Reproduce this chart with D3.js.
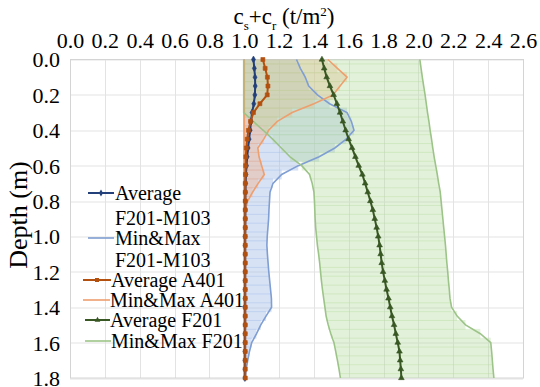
<!DOCTYPE html>
<html>
<head>
<meta charset="utf-8">
<script src="https://cdn.jsdelivr.net/npm/d3@7"></script>
<style>
    body { margin: 0; background: #fff; }
    svg { display: block; }
</style>
</head>
<body>
<div id="chart"></div>
<script>

// depth categories (m)
var depths = [0, 0.05, 0.1, 0.15, 0.2, 0.25, 0.3, 0.35, 0.4, 0.45, 0.5, 0.55, 0.6, 0.65, 0.7, 0.75, 0.8, 0.85, 0.9,
    0.95, 1.0, 1.05, 1.1, 1.15, 1.2, 1.25, 1.3, 1.35, 1.4, 1.45, 1.5, 1.55, 1.6, 1.65, 1.7, 1.75, 1.8];

// F201-M103
var avgM103 = [1.053, 1.058, 1.062, 1.063, 1.061, 1.055, 1.045, 1.039, 1.034, 1.028, 1.022, 1.017, 1.013, 1.010, 1.008,
    1.007, 1.006, 1.006, 1.006, 1.006, 1.005, 1.005, 1.005, 1.005, 1.005, 1.005, 1.005, 1.005, 1.005, 1.005, 1.005,
    1.004, 1.004, 1.004, 1.004, 1.004, 1.004];
var minM103 = [1.0, 1.0, 1.0, 1.0, 1.0, 1.0, 1.0, 1.0, 1.0, 1.0, 1.0, 1.0, 1.0, 1.0, 1.0, 1.0, 1.0, 1.0, 1.0, 1.0,
    1.0, 1.0, 1.0, 1.0, 1.0, 1.0, 1.0, 1.0, 1.0, 1.0, 1.0, 1.0, 1.0, 1.0, 1.0, 1.0, 1.0];
var maxM103 = [1.30, 1.322, 1.35, 1.37, 1.42, 1.49, 1.59, 1.615, 1.63, 1.585, 1.52, 1.43, 1.31, 1.215, 1.165, 1.148,
    1.145, 1.142, 1.14, 1.136, 1.132, 1.13, 1.133, 1.137, 1.141, 1.146, 1.151, 1.156, 1.157, 1.125, 1.095, 1.07,
    1.043, 1.03, 1.02, 1.011, 1.006];

// A401
var avgA401 = [1.107, 1.12, 1.133, 1.136, 1.132, 1.09, 1.053, 1.036, 1.024, 1.017, 1.012, 1.009, 1.008, 1.007, 1.006,
    1.006, 1.006, 1.006, 1.006, 1.006, 1.006, 1.006, 1.006, 1.006, 1.006, 1.006, 1.006, 1.006, 1.006, 1.006, 1.006,
    1.006, 1.006, 1.006, 1.006, 1.006, 1.006];
var minA401 = [1.0, 1.0, 1.0, 1.0, 1.0, 1.0, 1.0, 1.0, 1.0, 1.0, 1.0, 1.0, 1.0, 1.0, 1.0, 1.0, 1.0, 1.0, 1.0, 1.0,
    1.0, 1.0, 1.0, 1.0, 1.0, 1.0, 1.0, 1.0, 1.0, 1.0, 1.0, 1.0, 1.0, 1.0, 1.0, 1.0, 1.0];
var maxA401 = [1.48, 1.535, 1.59, 1.55, 1.51, 1.40, 1.275, 1.19, 1.14, 1.112, 1.078, 1.085, 1.10, 1.115, 1.08, 1.048,
    1.02, 1.006, 1.005, 1.005, 1.005, 1.005, 1.005, 1.005, 1.005, 1.005, 1.005, 1.005, 1.005, 1.005, 1.005, 1.005,
    1.005, 1.005, 1.005, 1.005, 1.005];

// F201
var avgF201 = [1.446, 1.459, 1.473, 1.492, 1.513, 1.532, 1.550, 1.566, 1.582, 1.599, 1.619, 1.638, 1.657, 1.678, 1.694,
    1.709, 1.724, 1.738, 1.749, 1.760, 1.769, 1.777, 1.783, 1.789, 1.797, 1.807, 1.817, 1.828, 1.838, 1.848, 1.860,
    1.870, 1.881, 1.891, 1.895, 1.899, 1.902];
var minF201 = [0.997, 0.997, 0.997, 0.997, 0.997, 0.997, 0.997, 1.052, 1.109, 1.163, 1.213, 1.263, 1.33, 1.375, 1.39,
    1.40, 1.403, 1.405, 1.407, 1.41, 1.415, 1.42, 1.427, 1.433, 1.438, 1.443, 1.449, 1.456, 1.463, 1.47, 1.482,
    1.497, 1.515, 1.525, 1.535, 1.544, 1.552];
var maxF201 = [2.008, 2.015, 2.022, 2.03, 2.038, 2.045, 2.052, 2.06, 2.067, 2.075, 2.082, 2.09, 2.099, 2.108, 2.116,
    2.125, 2.13, 2.135, 2.14, 2.145, 2.15, 2.155, 2.159, 2.163, 2.168, 2.172, 2.177, 2.181, 2.19, 2.222, 2.27,
    2.355, 2.415, 2.42, 2.424, 2.428, 2.433];

var xTicks = [0, 0.2, 0.4, 0.6, 0.8, 1.0, 1.2, 1.4, 1.6, 1.8, 2.0, 2.2, 2.4, 2.6];
var yTicks = [0, 0.2, 0.4, 0.6, 0.8, 1.0, 1.2, 1.4, 1.6, 1.8];

var legendLabels = [["Average", "F201-M103"], ["Min&Max", "F201-M103"], ["Average A401"], ["Min&Max A401"],
    ["Average F201"], ["Min&Max F201"]];

var FONT = "Liberation Serif";


DepthChart = function(container){

    this.container = container;

    this.cs = {
        grid: "#e3e3e3",
        border: "#d4d4d4",
        m103: {avg: "#23407a", line: "#7f9ed3", fill: "rgba(160,186,232,0.42)", marker: d3.symbolDiamond, msize: 14},
        a401: {avg: "#b3500f", line: "#ee9f6e", fill: "rgba(244,170,130,0.38)", marker: d3.symbolSquare, msize: 16},
        f201: {avg: "#385723", line: "#9dc488", fill: "rgba(183,220,160,0.40)", marker: d3.symbolTriangle, msize: 14}
    };

    this.series = [
        {key: "m103", avg: avgM103, min: minM103, max: maxM103},
        {key: "a401", avg: avgA401, min: minA401, max: maxA401},
        {key: "f201", avg: avgF201, min: minF201, max: maxF201}
    ];

    this._build_graph();
    this._draw_grid();
    this._draw_bands();
    this._draw_band_lines();
    this._draw_averages();
    this._draw_axes();
    this._draw_legend();
};

DepthChart.prototype._build_graph = function(){

    this.full_width = 540;
    this.full_height = 387;
    this.margin = {left: 70, top: 59.5, right: 17, bottom: 9};

    this.width = this.full_width - this.margin.left - this.margin.right;
    this.height = this.full_height - this.margin.top - this.margin.bottom;

    this.x = d3.scaleLinear().domain([0, 2.6]).range([0, this.width]);
    this.y = d3.scaleLinear().domain([0, 1.8]).range([0, this.height]);

    this._svg = d3.select(this.container)
        .append("svg")
        .attr("width", this.full_width)
        .attr("height", this.full_height);

    this._chart = this._svg.append("g")
        .attr("transform", "translate(" + this.margin.left + "," + this.margin.top + ")");

    this._chart.append("clipPath")
        .attr("id", "plotClip")
        .append("rect")
        .attr("width", this.width)
        .attr("height", this.height);
};

DepthChart.prototype._draw_grid = function(){

    var self = this;

    this._chart.append("g")
        .selectAll("line.vgrid")
        .data(xTicks)
        .join("line")
        .attr("x1", function(d){ return Math.round(self.x(d)) + 0.5; })
        .attr("x2", function(d){ return Math.round(self.x(d)) + 0.5; })
        .attr("y1", 0)
        .attr("y2", this.height)
        .style("stroke", this.cs.grid);

    this._chart.append("g")
        .selectAll("line.hgrid")
        .data(yTicks)
        .join("line")
        .attr("x1", 0)
        .attr("x2", this.width)
        .attr("y1", function(d){ return Math.round(self.y(d)) + 0.5; })
        .attr("y2", function(d){ return Math.round(self.y(d)) + 0.5; })
        .style("stroke", this.cs.grid);

    this._chart.append("rect")
        .attr("x", 0.5)
        .attr("y", 0)
        .attr("width", this.width)
        .attr("height", this.height)
        .style("fill", "none")
        .style("stroke", this.cs.border);
};

// min&max bands are stacked bars, one per depth step (gives the faint striping)
DepthChart.prototype._draw_bands = function(){

    var self = this;
    var step = Math.abs(this.y(depths[1]) - this.y(depths[0]));

    var g = this._chart.append("g").attr("clip-path", "url(#plotClip)");

    this.series.forEach(function(s){
        g.append("g")
            .selectAll("rect")
            .data(depths)
            .join("rect")
            .attr("x", function(d, i){ return self.x(s.min[i]); })
            .attr("width", function(d, i){ return self.x(s.max[i]) - self.x(s.min[i]); })
            .attr("y", function(d){ return self.y(d) - step / 2 - 0.5; })
            .attr("height", step + 1)
            .style("fill", self.cs[s.key].fill);
    });
};

DepthChart.prototype._draw_band_lines = function(){

    var self = this;

    this.series.forEach(function(s){
        ["min", "max"].forEach(function(k){
            var line = d3.line()
                .x(function(d, i){ return self.x(s[k][i]); })
                .y(function(d){ return self.y(d); });

            self._chart.append("path")
                .datum(depths)
                .attr("d", line)
                .style("fill", "none")
                .style("stroke", self.cs[s.key].line)
                .style("stroke-width", 1.6);
        });
    });
};

DepthChart.prototype._draw_averages = function(){

    var self = this;

    this.series.forEach(function(s){
        var c = self.cs[s.key];
        var line = d3.line()
            .x(function(d, i){ return self.x(s.avg[i]); })
            .y(function(d){ return self.y(d); });

        self._chart.append("path")
            .datum(depths)
            .attr("d", line)
            .style("fill", "none")
            .style("stroke", c.avg)
            .style("stroke-width", 2);

        self._chart.append("g")
            .selectAll("path")
            .data(depths)
            .join("path")
            .attr("transform", function(d, i){ return "translate(" + self.x(s.avg[i]) + "," + self.y(d) + ")"; })
            .attr("d", d3.symbol().type(c.marker).size(c.msize))
            .style("fill", c.avg)
            .style("stroke", c.avg)
            .style("stroke-width", 0.6);
    });
};

DepthChart.prototype._draw_axes = function(){

    var fmt = d3.format(".1f");

    var xAxis = this._chart.append("g")
        .attr("transform", "translate(0,-9)")
        .call(d3.axisTop(this.x).tickValues(xTicks).tickFormat(fmt).tickSize(0));

    var yAxis = this._chart.append("g")
        .attr("transform", "translate(-7,0)")
        .call(d3.axisLeft(this.y).tickValues(yTicks).tickFormat(fmt).tickSize(0));

    [xAxis, yAxis].forEach(function(a){
        a.attr("font-family", FONT).attr("font-size", 22);
        a.select(".domain").remove();
        a.selectAll("text")
            .attr("font-family", FONT)
            .attr("font-size", 22)
            .attr("fill", "#000");
    });
    yAxis.selectAll("text").attr("dy", "0.34em");

    // title with subscripts
    var title = this._svg.append("text")
        .attr("x", 284)
        .attr("y", 24)
        .attr("text-anchor", "middle")
        .attr("font-family", FONT)
        .attr("font-size", 23);
    title.append("tspan").text("c");
    title.append("tspan").attr("dy", 6).attr("font-size", 13).text("s");
    title.append("tspan").attr("dy", -6).text("+c");
    title.append("tspan").attr("dy", 6).attr("font-size", 13).text("r");
    title.append("tspan").attr("dy", -6).text(" (t/m");
    title.append("tspan").attr("dy", -8).attr("font-size", 13).text("2");
    title.append("tspan").attr("dy", 8).text(")");

    this._svg.append("text")
        .attr("transform", "translate(27,215) rotate(-90)")
        .attr("text-anchor", "middle")
        .attr("font-family", FONT)
        .attr("font-size", 26)
        .text("Depth (m)");
};

DepthChart.prototype._draw_legend = function(){

    var self = this;

    // text rows of each entry share the sample line drawn on the first row
    var entries = [
        {key: "m103", avg: true, x0: 88, x1: 114, tx: 115, ys: [193, 218]},
        {key: "m103", avg: false, x0: 88, x1: 114, tx: 115, ys: [238, 260]},
        {key: "a401", avg: true, x0: 83, x1: 111, tx: 111, ys: [280]},
        {key: "a401", avg: false, x0: 83, x1: 110, tx: 110, ys: [300]},
        {key: "f201", avg: true, x0: 85, x1: 110, tx: 110, ys: [320]},
        {key: "f201", avg: false, x0: 85, x1: 111, tx: 111, ys: [341]}
    ];

    var g = this._svg.append("g");

    entries.forEach(function(e, i){
        var c = self.cs[e.key];
        var y0 = e.ys[0];

        g.append("line")
            .attr("x1", e.x0)
            .attr("x2", e.x1)
            .attr("y1", y0)
            .attr("y2", y0)
            .style("stroke", e.avg ? c.avg : c.line)
            .style("stroke-width", e.avg ? 2 : 1.6);

        if(e.avg){
            g.append("path")
                .attr("transform", "translate(" + ((e.x0 + e.x1) / 2) + "," + y0 + ")")
                .attr("d", d3.symbol().type(c.marker).size(c.msize))
                .style("fill", c.avg);
        }

        legendLabels[i].forEach(function(str, j){
            g.append("text")
                .attr("x", e.tx)
                .attr("y", e.ys[j])
                .attr("dy", "0.34em")
                .attr("font-family", FONT)
                .attr("font-size", 20)
                .text(str);
        });
    });
};

new DepthChart("#chart");

</script>
</body>
</html>
